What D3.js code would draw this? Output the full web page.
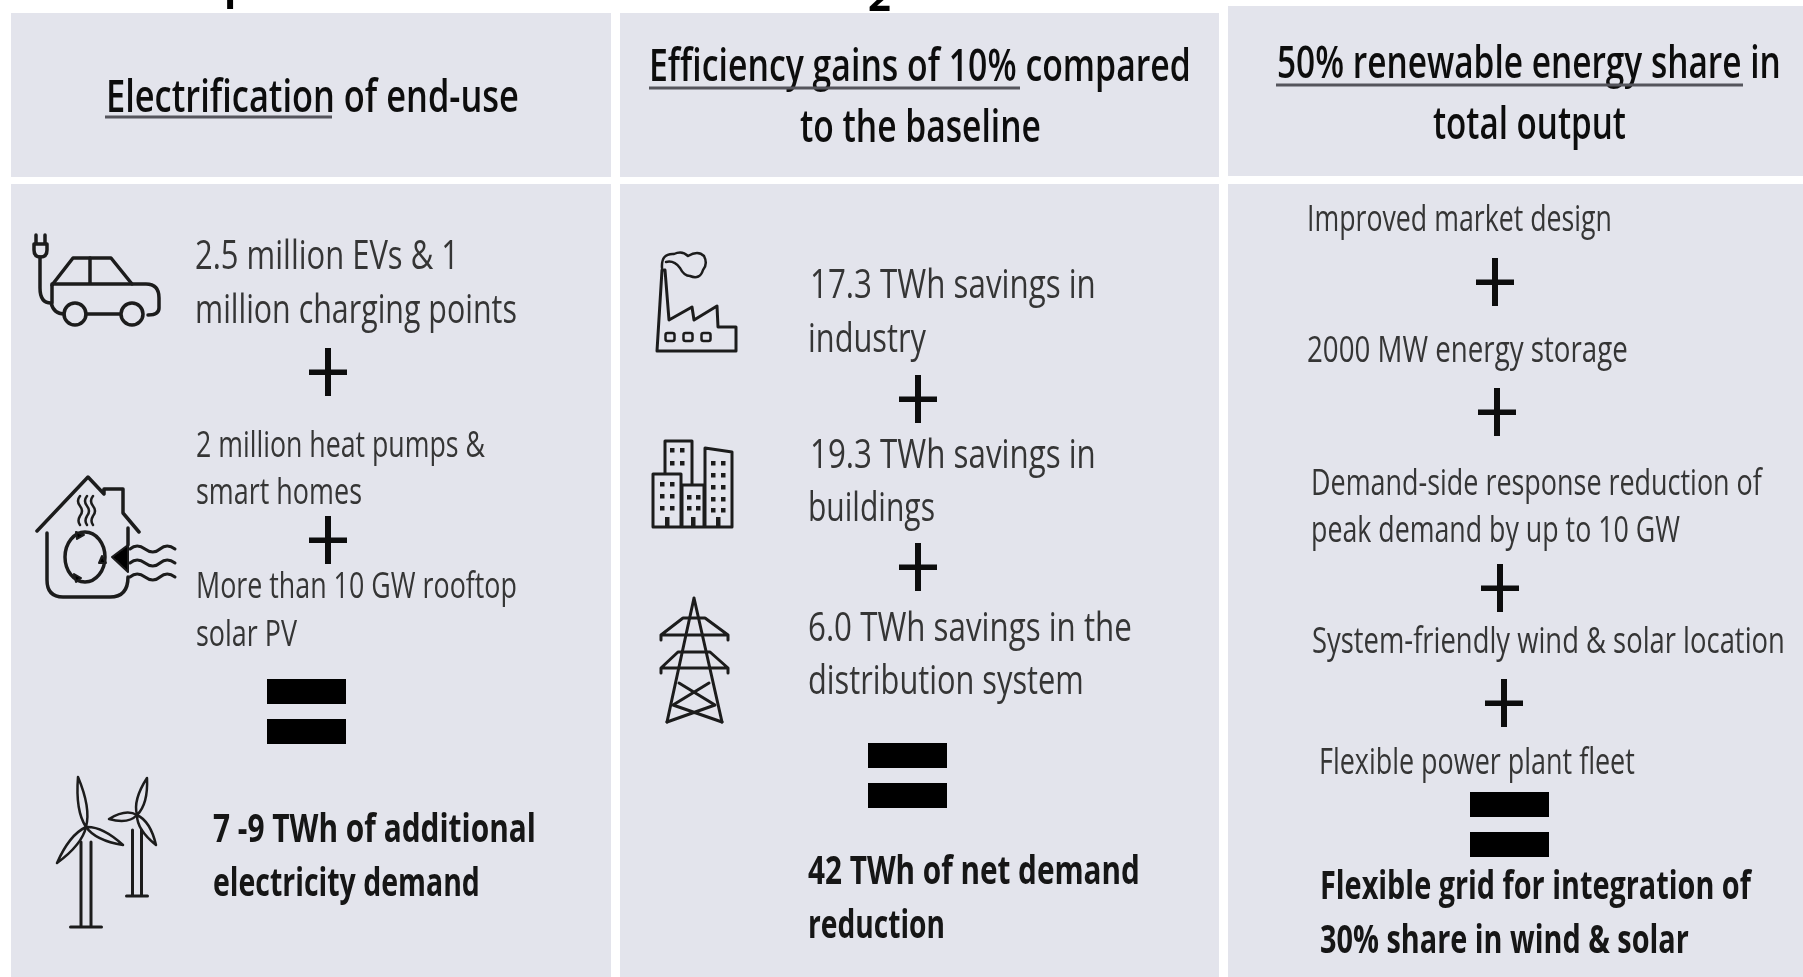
<!DOCTYPE html>
<html lang="en">
<head>
    <meta charset="UTF-8">
    <title>pillars infographic</title>
    <script src="https://d3js.org/d3.v7.min.js"></script>
    <style>
        html, body { margin: 0; padding: 0; background: #fff; overflow: hidden; }
        svg { display: block; }
        text { font-family: "Open Sans", "Noto Sans", sans-serif; }
    </style>
</head>
<body>
    <svg></svg>
    <script>
        const w = 1803;
        const h = 977;

        // text of each column
        const headers1 = ['Electrification of end-use'];
        const headers2 = ['Efficiency gains of 10% compared', 'to the baseline'];
        const headers3 = ['50% renewable energy share in', 'total output'];
        const lines1 = ['2.5 million EVs & 1', 'million charging points', '2 million heat pumps &', 'smart homes',
            'More than 10 GW rooftop', 'solar PV'];
        const lines2 = ['17.3 TWh savings in', 'industry', '19.3 TWh savings in', 'buildings',
            '6.0 TWh savings in the', 'distribution system'];
        const lines3 = ['Improved market design', '2000 MW energy storage', 'Demand-side response reduction of',
            'peak demand by up to 10 GW', 'System-friendly wind & solar location', 'Flexible power plant fleet'];
        const results1 = ['7 -9 TWh of additional', 'electricity demand'];
        const results2 = ['42 TWh of net demand', 'reduction'];
        const results3 = ['Flexible grid for integration of', '30% share in wind & solar'];
        const cutOff = ['p', '2'];

        // layout: [x, baseline, width, font size] for each text line above
        const headers1Pos = [[106, 112, 413, 45]];
        const headers2Pos = [[649, 81, 542, 45], [800, 142, 241, 45]];
        const headers3Pos = [[1277, 78, 504, 45], [1433, 139, 193, 45]];
        const lines1Pos = [[195, 269, 264, 40], [195, 323, 322, 40], [196, 457, 289, 37], [196, 504, 166, 37],
            [196, 598, 321, 37], [196, 646, 101, 37]];
        const lines2Pos = [[810, 298, 286, 40], [808, 352, 118, 40], [810, 468, 286, 40], [808, 521, 127, 40],
            [808, 641, 324, 40], [808, 694, 276, 40]];
        const lines3Pos = [[1307, 231, 305, 36], [1307, 362, 321, 36], [1311, 495, 451, 36],
            [1311, 542, 369, 36], [1312, 653, 473, 36], [1319, 774, 316, 36]];
        const results1Pos = [[213, 842, 323, 40], [213, 896, 267, 40]];
        const results2Pos = [[808, 884, 332, 40], [808, 938, 137, 40]];
        const results3Pos = [[1320, 899, 431, 40], [1320, 953, 369, 40]];

        const panels = [[11, 13, 600, 164], [620, 13, 599, 164], [1228, 6, 575, 170],
            [11, 184, 600, 793], [620, 184, 599, 793], [1228, 184, 575, 793]];
        const underlines = [[105, 332, 117], [649, 1020, 88], [1276, 1743, 85]];
        const plusses = [[328, 372], [328, 540], [918, 399], [918, 567],
            [1495, 282], [1497, 412], [1500, 588], [1504, 703]];
        const equals = [[267, 679], [868, 743], [1470, 792]];

        const svg = d3.select('svg')
            .attr('width', w)
            .attr('height', h);

        svg.append('defs').append('filter')
            .attr('id', 'soft')
            .append('feGaussianBlur')
            .attr('stdDeviation', 0.7);

        const g = svg.append('g').attr('filter', 'url(#soft)');

        // bits of the cropped title above the panels
        g.selectAll('.cut')
            .data(cutOff)
            .enter()
            .append('text')
            .attr('class', 'cut')
            .attr('x', (d, i) => i === 0 ? 224 : 868)
            .attr('y', (d, i) => i === 0 ? 0 : 11)
            .attr('font-size', 40)
            .attr('font-weight', 700)
            .attr('fill', '#000')
            .text(d => d);

        g.selectAll('.panel')
            .data(panels)
            .enter()
            .append('rect')
            .attr('class', 'panel')
            .attr('x', d => d[0])
            .attr('y', d => d[1])
            .attr('width', d => d[2])
            .attr('height', d => d[3])
            .attr('fill', '#e3e4ec');

        // the reference font is narrow, so squeeze each line to its measured width
        function addText(strs, pos, color, weight) {
            strs.forEach((s, i) => {
                const p = pos[i];
                const t = g.append('text')
                    .attr('font-size', p[3])
                    .attr('font-weight', weight)
                    .attr('fill', color)
                    .text(s);
                const sx = p[2] / t.node().getComputedTextLength();
                t.attr('transform', `translate(${p[0]},${p[1]}) scale(${sx},1)`);
            });
        }

        addText(headers1, headers1Pos, '#101010', 600);
        addText(headers2, headers2Pos, '#101010', 600);
        addText(headers3, headers3Pos, '#101010', 600);
        addText(lines1, lines1Pos, '#353535', 500);
        addText(lines2, lines2Pos, '#353535', 500);
        addText(lines3, lines3Pos, '#353535', 500);
        addText(results1, results1Pos, '#141414', 700);
        addText(results2, results2Pos, '#141414', 700);
        addText(results3, results3Pos, '#141414', 700);

        g.selectAll('.underline')
            .data(underlines)
            .enter()
            .append('line')
            .attr('x1', d => d[0])
            .attr('x2', d => d[1])
            .attr('y1', d => d[2])
            .attr('y2', d => d[2])
            .attr('stroke', '#55555c')
            .attr('stroke-width', 3);

        // plus signs
        plusses.forEach(d => {
            g.append('rect').attr('x', d[0] - 19).attr('y', d[1] - 2.5).attr('width', 38).attr('height', 5.5).attr('fill', '#0a0a0a');
            g.append('rect').attr('x', d[0] - 3).attr('y', d[1] - 24).attr('width', 6).attr('height', 48).attr('fill', '#0a0a0a');
        });

        // equals signs
        equals.forEach(d => {
            g.append('rect').attr('x', d[0]).attr('y', d[1]).attr('width', 79).attr('height', 25).attr('fill', '#000');
            g.append('rect').attr('x', d[0]).attr('y', d[1] + 40).attr('width', 79).attr('height', 25).attr('fill', '#000');
        });

        // icons
        const icons = g.append('g')
            .attr('fill', 'none')
            .attr('stroke', '#1c1c1c')
            .attr('stroke-width', 3.5)
            .attr('stroke-linejoin', 'round')
            .attr('stroke-linecap', 'round');

        function draw(d, sw, fill) {
            const p = icons.append('path').attr('d', d);
            if (sw) p.attr('stroke-width', sw);
            if (fill) p.attr('fill', fill);
            return p;
        }

        // car with plug
        draw('M36 235V244M45 235V244M34 244H47V250Q47 257 40.500 257Q34 257 34 250Z');
        draw('M40 257V288Q40 303 51 303Q54 314 64 314');
        draw('M52 285L73 258H111L132 284H146Q159 284 159 298V308Q159 315 148 315');
        draw('M52 284H132M90 258V284M52 285V303M86 314H120');
        icons.append('circle').attr('cx', 75).attr('cy', 314).attr('r', 11);
        icons.append('circle').attr('cx', 132).attr('cy', 314).attr('r', 11);

        // heat pump house
        draw('M37 531L88 477L104 494V489H123V513L139 532');
        draw('M47 533V580Q47 597 63 597H110Q128 597 128 577M128 528V545');
        draw('M112 557L128 545V572Z', 2, '#000');
        icons.append('ellipse').attr('cx', 85).attr('cy', 557).attr('rx', 20).attr('ry', 25);
        draw('M80 496q-4 5 0 10q4 5 0 10q-3 5 0 9M87 496q-4 5 0 10q4 5 0 10q-3 5 0 9M93 496q-4 5 0 10q4 5 0 10q-3 5 0 9', 2.500);
        draw('M130 549q7 -6 15 0t15 0t15 0M130 563q7 -6 15 0t15 0t15 0M130 577q7 -6 15 0t15 0t15 0', 3);
        draw('M76 532L84 535L77 539ZM102 556L106 563L99 563ZM76 582L74 574L81 578Z', 2, '#000');

        // wind turbines
        function turbine(hx, hy, tips, towerTop, towerBot, baseW, towerW) {
            tips.forEach(t => {
                const dx = t[0] - hx, dy = t[1] - hy;
                const len = Math.hypot(dx, dy);
                const nx = -dy / len * 8, ny = dx / len * 8;
                const mx = hx + dx * 0.35, my = hy + dy * 0.35;
                draw(`M${hx} ${hy}Q${mx + nx} ${my + ny} ${t[0]} ${t[1]}Q${mx - nx} ${my - ny} ${hx} ${hy}`, 2.500);
            });
            draw(`M${hx - towerW / 2} ${towerTop}V${towerBot}M${hx + towerW / 2} ${towerTop}V${towerBot}M${hx - baseW / 2} ${towerBot}H${hx + baseW / 2}`, 3);
        }
        turbine(86, 827, [[78, 777], [123, 845], [57, 863]], 842, 927, 31, 10);
        turbine(137, 815, [[147, 778], [109, 819], [156, 845]], 830, 896, 21, 9);

        // factory
        draw('M657 351L662 270H665L669 320L692 307L694 320L717 306L718 327H736V351Z', 3);
        draw('M662 268Q661 253 674 254Q682 250 688 256Q698 250 704 256Q708 264 703 270Q700 280 690 276Q684 276 680 268Q674 260 666 262', 2.500);
        [670, 688, 706].forEach(x => {
            icons.append('rect').attr('x', x - 4.500).attr('y', 333).attr('width', 9).attr('height', 8).attr('rx', 2).attr('stroke-width', 2.500);
        });

        // buildings
        draw('M665 474V441H692V485M653 527V474H681V527M682 527V485H704V527M705 527V448L732 452V527M653 527H732', 3);
        const dots = icons.append('g').attr('fill', '#1c1c1c').attr('stroke', 'none');
        [[672, 450], [682, 450], [672, 463], [682, 463],
            [662, 484], [672, 484], [662, 496], [672, 496], [662, 508], [672, 508],
            [689, 497], [698, 497], [689, 508], [698, 508],
            [713, 463], [723, 463], [713, 475], [723, 475], [713, 487], [723, 487], [713, 499], [723, 499], [713, 510], [723, 510]
        ].forEach(d => {
            dots.append('rect').attr('x', d[0] - 2).attr('y', d[1] - 2).attr('width', 4.5).attr('height', 4.5);
        });
        [667, 693, 718].forEach(x => {
            dots.append('rect').attr('x', x - 2).attr('y', 517).attr('width', 4.5).attr('height', 10);
        });

        // pylon
        draw('M694 598L667 722M694 598L722 722', 3);
        draw('M683 618H705M661 635L683 618M728 635L705 618M661 635H728M661 640V635M728 640V635', 3);
        draw('M678 652H710M661 668L678 652M728 668L710 652M661 668H728M661 673V668M728 673V668', 3);
        draw('M679 683L715 705L667 722M709 683L673 705L722 722', 3);
    </script>
</body>
</html>
